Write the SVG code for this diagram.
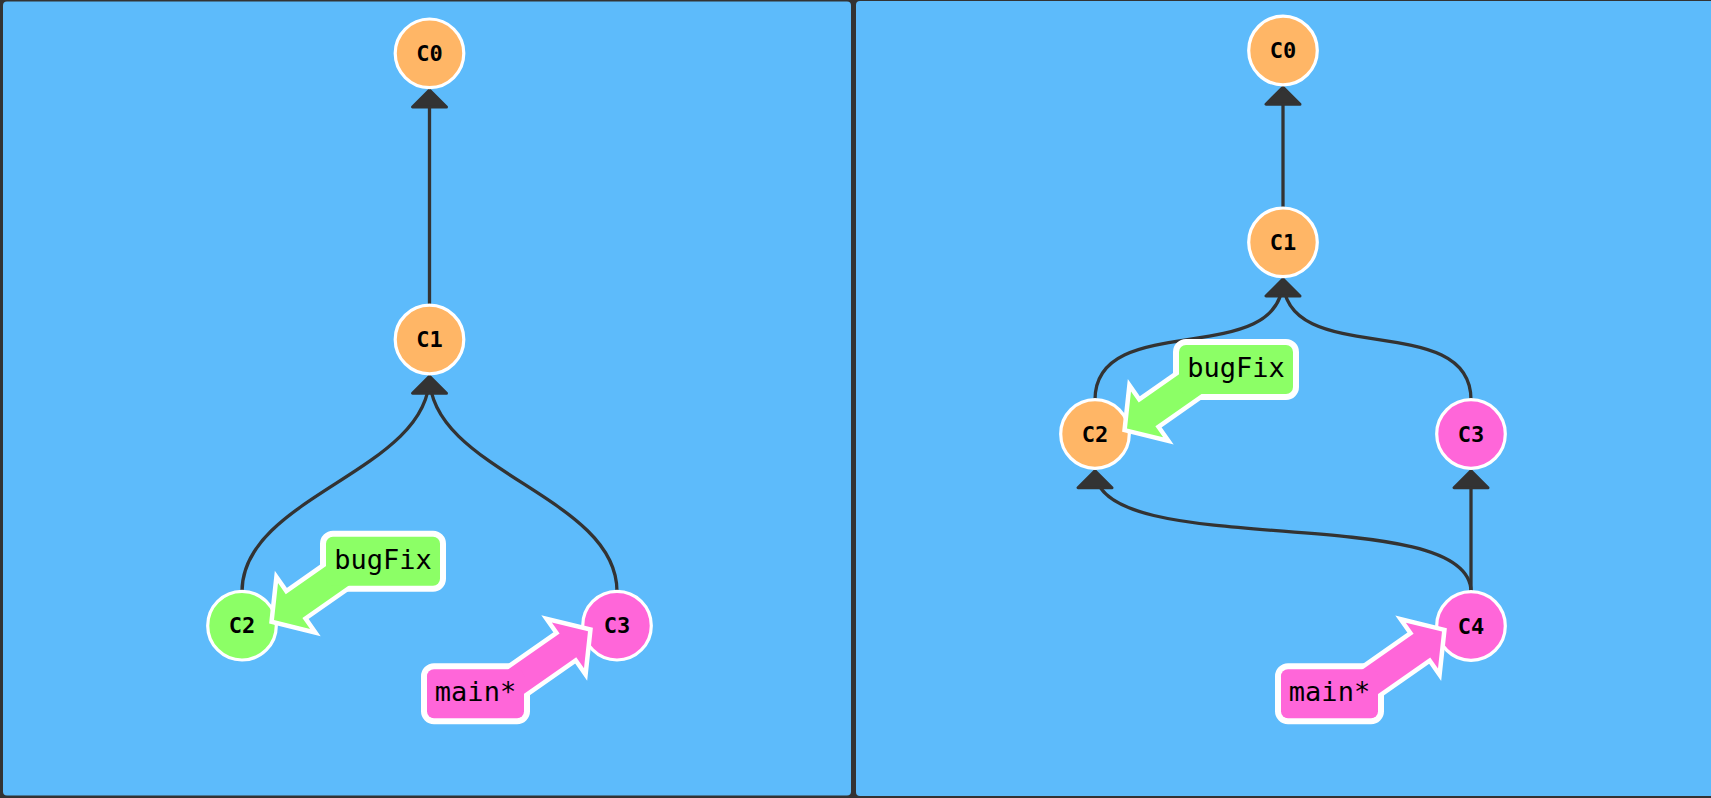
<svg xmlns="http://www.w3.org/2000/svg" width="1711" height="798" viewBox="0 0 1711 798">
<style>
.panel{fill:#5dbbfb}
.edge{fill:none;stroke:#333;stroke-width:3.3}
.head{fill:#333;stroke:#333;stroke-width:3;stroke-linejoin:round}
.commit{stroke:#fff;stroke-width:3.2}
.orange{fill:#ffb666}
.green{fill:#8cff66}
.pink{fill:#ff66d9}
.ctext{font-family:"DejaVu Sans Mono","Liberation Mono",monospace;font-weight:bold;font-size:22px;fill:#000;text-anchor:middle}
.btext{font-family:"DejaVu Sans Mono","Liberation Mono",monospace;font-size:27px;fill:#000;text-anchor:middle}
.wrect{fill:#fff;stroke:#fff;stroke-width:12;stroke-linejoin:round}
.warrow{fill:#fff;stroke:#fff;stroke-width:9;stroke-linejoin:miter}
</style>
<defs>
<polygon id="arr" points="0,0 24.5,-28 24.5,-14.5 110,-14.5 110,14.5 24.5,14.5 24.5,28"/>
</defs>
<rect x="0" y="0" width="1711" height="798" fill="#333"/>
<rect class="panel" x="3" y="1.5" width="848" height="794" rx="4"/>
<rect class="panel" x="856" y="1" width="860" height="795" rx="4"/>

<g id="connectors">
<path class="edge" d="M429.5,305.2 L429.5,90"/>
<polygon class="head" points="429.5,90 412.5,107 446.5,107"/>
<path class="edge" d="M242,591.4 C242,496 429.5,471 429.5,376.2"/>
<path class="edge" d="M617,591.4 C617,496 429.5,471 429.5,376.2"/>
<polygon class="head" points="429.5,376.2 412.5,393.2 446.5,393.2"/>

<path class="edge" d="M1283,208 L1283,87.2"/>
<polygon class="head" points="1283,87.2 1266,104.2 1300,104.2"/>
<path class="edge" d="M1095,399.7 C1095,307.7 1283,371 1283,279"/>
<path class="edge" d="M1471,399.7 C1471,307.7 1283,371 1283,279"/>
<polygon class="head" points="1283,279 1266,296 1300,296"/>
<path class="edge" d="M1471,591.7 L1471,470.7"/>
<polygon class="head" points="1471,470.7 1454,487.7 1488,487.7"/>
<path class="edge" d="M1471,591.7 C1471,499.7 1095,562.7 1095,470.7"/>
<polygon class="head" points="1095,470.7 1078,487.7 1112,487.7"/>
</g>

<g id="left-C0"><circle class="commit orange" cx="429.5" cy="53.3" r="34.3"/><text class="ctext" x="429.5" y="60.8">C0</text></g>
<g id="left-C1"><circle class="commit orange" cx="429.5" cy="339.5" r="34.3"/><text class="ctext" x="429.5" y="347">C1</text></g>
<g id="left-C2"><circle class="commit green" cx="242" cy="625.7" r="34.3"/><text class="ctext" x="242" y="633.2">C2</text></g>
<g id="left-C3"><circle class="commit pink" cx="617" cy="625.7" r="34.3"/><text class="ctext" x="617" y="633.2">C3</text></g>

<g id="left-bugFix">
<use href="#arr" class="warrow" transform="translate(274,620.1) rotate(-35)"/>
<rect class="wrect" x="326" y="536.7" width="114" height="49" rx="7"/>
<use href="#arr" class="green" transform="translate(274,620.1) rotate(-35)"/>
<rect class="green" x="326" y="536.7" width="114" height="49" rx="7"/>
<text class="btext" x="383" y="568.7">bugFix</text>
</g>
<g id="left-main">
<use href="#arr" class="warrow" transform="translate(588,631.3) rotate(145)"/>
<rect class="wrect" x="427" y="669.3" width="97" height="49" rx="7"/>
<use href="#arr" class="pink" transform="translate(588,631.3) rotate(145)"/>
<rect class="pink" x="427" y="669.3" width="97" height="49" rx="7"/>
<text class="btext" x="475.5" y="701">main*</text>
</g>

<g id="right-C0"><circle class="commit orange" cx="1283" cy="50.5" r="34.3"/><text class="ctext" x="1283" y="58">C0</text></g>
<g id="right-C1"><circle class="commit orange" cx="1283" cy="242.3" r="34.3"/><text class="ctext" x="1283" y="249.8">C1</text></g>
<g id="right-C2"><circle class="commit orange" cx="1095" cy="434" r="34.3"/><text class="ctext" x="1095" y="441.5">C2</text></g>
<g id="right-C3"><circle class="commit pink" cx="1471" cy="434" r="34.3"/><text class="ctext" x="1471" y="441.5">C3</text></g>
<g id="right-C4"><circle class="commit pink" cx="1471" cy="626" r="34.3"/><text class="ctext" x="1471" y="633.5">C4</text></g>

<g id="right-bugFix">
<use href="#arr" class="warrow" transform="translate(1127,428.4) rotate(-35)"/>
<rect class="wrect" x="1179" y="345" width="114" height="49" rx="7"/>
<use href="#arr" class="green" transform="translate(1127,428.4) rotate(-35)"/>
<rect class="green" x="1179" y="345" width="114" height="49" rx="7"/>
<text class="btext" x="1236" y="377">bugFix</text>
</g>
<g id="right-main">
<use href="#arr" class="warrow" transform="translate(1442,631.6) rotate(145)"/>
<rect class="wrect" x="1281" y="669.3" width="97" height="49" rx="7"/>
<use href="#arr" class="pink" transform="translate(1442,631.6) rotate(145)"/>
<rect class="pink" x="1281" y="669.3" width="97" height="49" rx="7"/>
<text class="btext" x="1329.5" y="701">main*</text>
</g>
</svg>
